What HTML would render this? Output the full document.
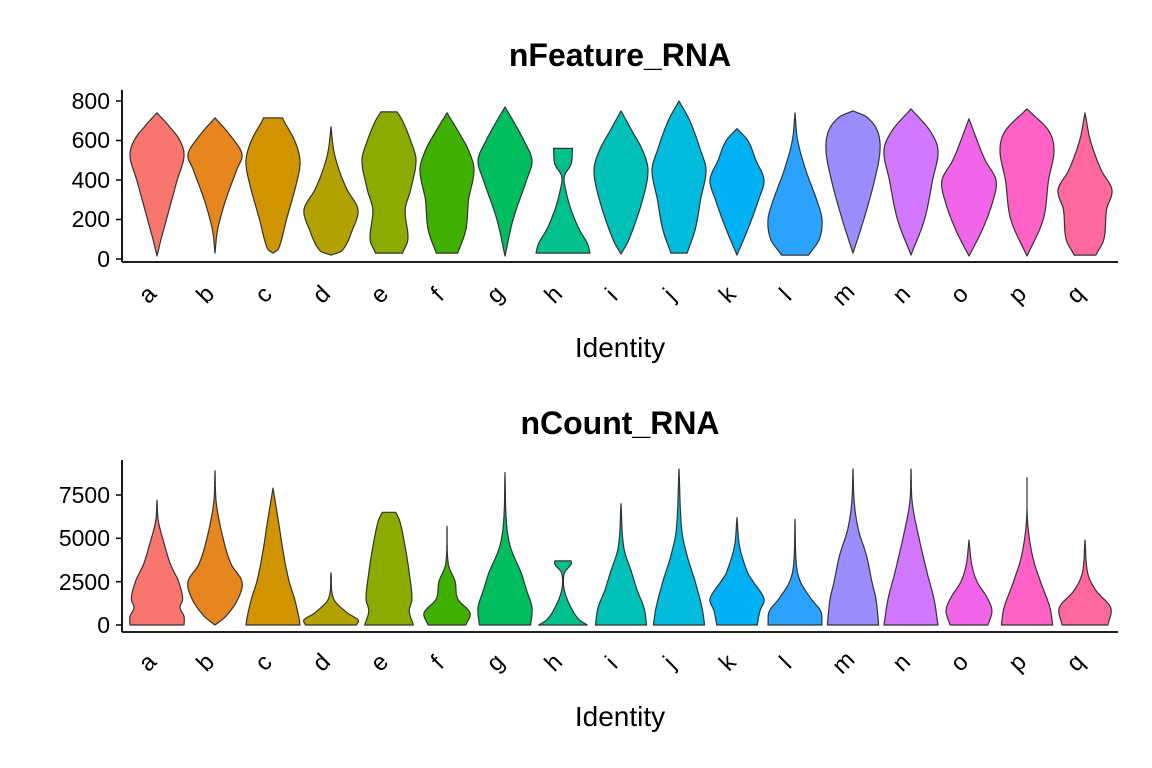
<!DOCTYPE html>
<html><head><meta charset="utf-8"><style>
html,body{margin:0;padding:0;background:#fff;}
svg{display:block;font-family:"Liberation Sans",Arial,sans-serif;}
</style></head><body>
<svg id="s" width="1152" height="768" viewBox="0 0 1152 768" xmlns="http://www.w3.org/2000/svg">
<rect width="1152" height="768" fill="#fff"/>
<text x="620" y="66" font-size="32" font-weight="bold" text-anchor="middle">nFeature_RNA</text>
<text x="620" y="434" font-size="32" font-weight="bold" text-anchor="middle">nCount_RNA</text>
<g id="g1"></g><g id="g2"></g>
<line x1="122" y1="90" x2="122" y2="262" stroke="#000" stroke-width="1.8"/>
<line x1="122" y1="262" x2="1118" y2="262" stroke="#000" stroke-width="1.8"/>
<line x1="122" y1="460" x2="122" y2="632" stroke="#000" stroke-width="1.8"/>
<line x1="122" y1="632" x2="1118" y2="632" stroke="#000" stroke-width="1.8"/>
<g font-size="23" text-anchor="end" fill="#000">
<text x="110" y="109">800</text><text x="110" y="148">600</text><text x="110" y="188">400</text><text x="110" y="227">200</text><text x="110" y="267">0</text>
<text x="110" y="503">7500</text><text x="110" y="546">5000</text><text x="110" y="590">2500</text><text x="110" y="633">0</text>
</g>
<g stroke="#000" stroke-width="1.5">
<line x1="116" y1="101" x2="122" y2="101"/><line x1="116" y1="140.5" x2="122" y2="140.5"/><line x1="116" y1="180" x2="122" y2="180"/><line x1="116" y1="219.5" x2="122" y2="219.5"/><line x1="116" y1="259" x2="122" y2="259"/>
<line x1="116" y1="495" x2="122" y2="495"/><line x1="116" y1="538.3" x2="122" y2="538.3"/><line x1="116" y1="581.7" x2="122" y2="581.7"/><line x1="116" y1="625" x2="122" y2="625"/>
</g>
<text x="620" y="357" font-size="28" text-anchor="middle">Identity</text>
<text x="620" y="726" font-size="28" text-anchor="middle">Identity</text>
<g id="lab" font-size="24"></g>
</svg>
<script>
var cols=["#F8766D","#E7851E","#D09400","#B2A100","#8BAB00","#3DB000","#00BE5F","#00C08B","#00C0B8","#00BBDB","#00B2F3","#29A3FF","#9C8DFF","#D277FF","#F166E8","#FF61C7","#FF689F"];
var T=[[[15,0],[100,.15],[200,.35],[400,.75],[520,1],[600,.85],[680,.4],[740,0]],
[[30,0],[150,.1],[300,.4],[450,.8],[530,1],[620,.6],[715,0]],
[[30,0],[50,.2],[200,.5],[400,.9],[500,1],[600,.8],[700,.4],[715,.35]],
[[20,0],[40,.4],[150,.8],[250,1],[350,.6],[450,.3],[550,.1],[670,0]],
[[30,.5],[100,.7],[250,.6],[350,.8],[500,1],[600,.8],[700,.5],[745,.3]],
[[30,.4],[150,.7],[300,.8],[450,1],[550,.8],[650,.4],[740,0]],
[[15,0],[200,.3],[400,.8],[500,1],[600,.7],[700,.3],[770,0]],
[[30,1],[80,.9],[150,.6],[250,.3],[350,.1],[420,.05],[480,.3],[560,.35]],
[[25,0],[100,.3],[300,.8],[450,1],[550,.8],[650,.4],[750,0]],
[[30,.3],[150,.6],[300,.8],[450,1],[550,.8],[700,.4],[800,0]],
[[20,0],[150,.4],[300,.8],[400,1],[500,.7],[600,.4],[660,0]],
[[20,.5],[100,.9],[200,1],[300,.8],[450,.4],[600,.1],[740,0]],
[[30,0],[200,.4],[400,.8],[550,1],[650,.9],[720,.5],[750,0]],
[[20,0],[200,.5],[400,.8],[550,1],[650,.7],[760,0]],
[[15,0],[150,.5],[300,.9],[400,1],[500,.6],[600,.3],[710,0]],
[[15,0],[200,.6],[400,.8],[550,1],[650,.8],[760,0]],
[[20,.4],[100,.7],[250,.8],[350,1],[450,.6],[600,.2],[740,0]]];
var B=[[[0,1],[500,1],[1000,.85],[1500,.95],[2500,.8],[3500,.5],[4500,.3],[6000,.05],[7200,0]],
[[0,0],[500,.4],[1500,.85],[2500,1],[3500,.6],[5000,.3],[7000,.05],[8900,0]],
[[0,1],[500,.95],[1500,.8],[2500,.6],[4000,.4],[6000,.2],[7900,0]],
[[0,.95],[300,1],[700,.6],[1500,.1],[3000,0]],
[[0,.9],[800,.75],[1500,.85],[3000,.75],[4500,.6],[6000,.4],[6500,.25]],
[[0,.7],[700,.85],[1500,.4],[2500,.3],[3500,.05],[5700,0]],
[[0,.95],[1000,1],[2000,.8],[3000,.6],[4500,.2],[6000,.05],[8800,0]],
[[0,.9],[300,.6],[1000,.3],[2000,.05],[3000,.05],[3500,.3],[3700,.3]],
[[0,.95],[1000,.85],[2000,.6],[3000,.4],[4500,.1],[7000,0]],
[[0,.95],[1000,.85],[2500,.6],[4000,.3],[5500,.1],[9000,0]],
[[0,.75],[800,.85],[1500,1],[2500,.6],[3000,.4],[4500,.1],[6200,0]],
[[0,1],[800,.95],[1500,.6],[2500,.2],[3500,.05],[6100,0]],
[[0,.95],[1500,.85],[2500,.7],[4000,.5],[5500,.2],[7000,.05],[9000,0]],
[[0,1],[1500,.85],[3000,.6],[5000,.3],[7000,.05],[9000,0]],
[[0,.7],[800,.85],[1500,.7],[2500,.3],[3500,.1],[4900,0]],
[[0,.95],[1000,.85],[2500,.5],[4000,.2],[6000,.02],[8500,0]],
[[0,.85],[1000,.95],[2000,.4],[3000,.1],[4900,0]]];
var NS="http://www.w3.org/2000/svg";
function interp(p,v){
 for(var k=0;k<p.length-1;k++){
  if(v<=p[k+1][0]){
   var p0=p[Math.max(k-1,0)],p1=p[k],p2=p[k+1],p3=p[Math.min(k+2,p.length-1)];
   var t=(v-p1[0])/(p2[0]-p1[0]||1);
   var m1=(p2[1]-p0[1])/((p2[0]-p0[0])||1)*(p2[0]-p1[0]);
   var m2=(p3[1]-p1[1])/((p3[0]-p1[0])||1)*(p2[0]-p1[0]);
   var t2=t*t,t3=t2*t;
   var w=(2*t3-3*t2+1)*p1[1]+(t3-2*t2+t)*m1+(-2*t3+3*t2)*p2[1]+(t3-t2)*m2;
   return Math.max(0,w);
  }
 }
 return p[p.length-1][1];
}
function draw(g,data,y0,scale,hw){
 data.forEach(function(p,i){
  var cx=157+58*i,L=[],R=[],a=p[0][0],b=p[p.length-1][0],N=80;
  for(var s=0;s<=N;s++){
   var v=a+(b-a)*s/N,w=interp(p,v)*hw,y=y0-v*scale;
   R.push((cx+w).toFixed(1)+","+y.toFixed(1));L.unshift((cx-w).toFixed(1)+","+y.toFixed(1));
  }
  var e=document.createElementNS(NS,"polygon");
  e.setAttribute("points",R.concat(L).join(" "));
  e.setAttribute("fill",cols[i]);e.setAttribute("stroke","#333");e.setAttribute("stroke-width","1.2");e.setAttribute("stroke-linejoin","round");
  g.appendChild(e);
 });
}
draw(document.getElementById("g1"),T,259,158/800,27);
draw(document.getElementById("g2"),B,625,130/7500,27);
var lab=document.getElementById("lab"),ls="abcdefghijklmnopq";
for(var i=0;i<17;i++){
 [300,668].forEach(function(r){
  var cx=157+58*i,t=document.createElementNS(NS,"text");
  t.setAttribute("x",cx-4);t.setAttribute("y",r);
  t.setAttribute("text-anchor","middle");
  t.setAttribute("transform","rotate(-45 "+(cx-4)+" "+r+")");
  t.textContent=ls[i];lab.appendChild(t);
 });
}
</script>
</body></html>
